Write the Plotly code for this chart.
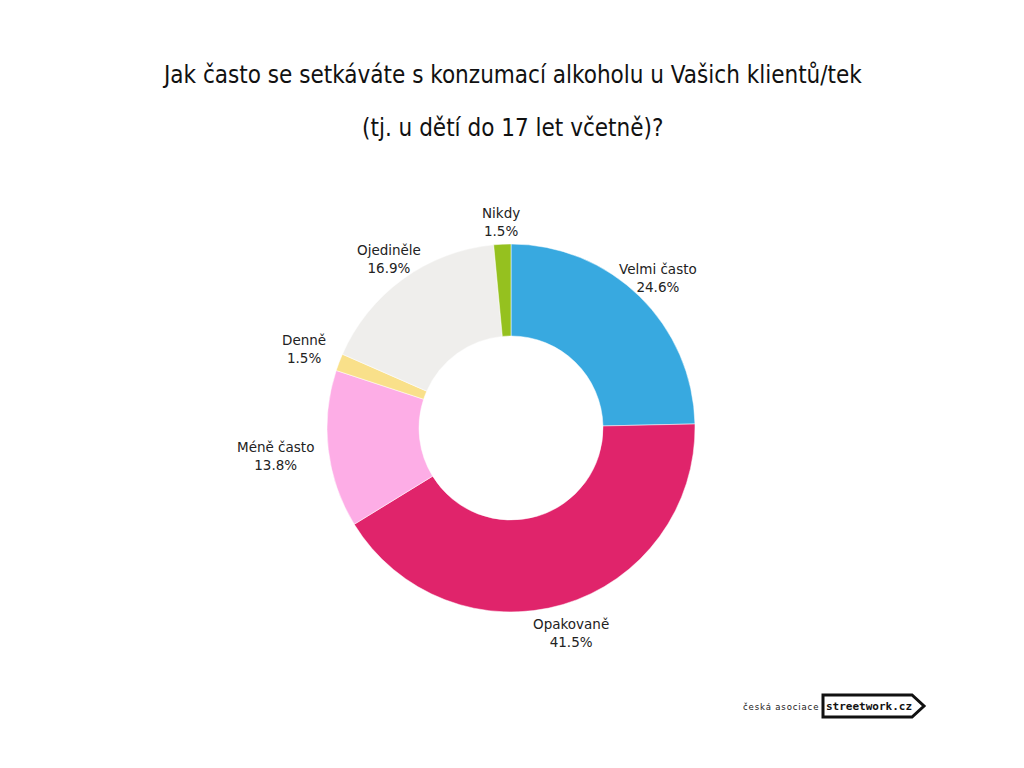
import math
import plotly.graph_objects as go

categories = ["Velmi často", "Opakovaně", "Méně často", "Denně", "Ojediněle", "Nikdy"]
values = [24.6, 41.5, 13.8, 1.5, 16.9, 1.5]
colors = ["#38A9E0", "#E0246B", "#FDADE6", "#F9E08A", "#EFEEEC", "#95C11F"]

title_lines = ["Jak často se setkáváte s konzumací alkoholu u Vašich klientů/tek",
               "(tj. u dětí do 17 let včetně)?"]

W, H = 1024, 768
CX, CY, R = 511, 428, 184          # pie centre / radius in px
LABEL_R = 214                      # label centre radius in px

fig = go.Figure(go.Pie(
    labels=categories,
    values=values,
    textposition="none",
    marker=dict(colors=colors, line=dict(color="white", width=0.5)),
    hole=0.5,
    sort=False,
    direction="clockwise",
    rotation=0,
    showlegend=False,
    domain=dict(x=[(CX - R) / W, (CX + R) / W], y=[1 - (CY + R) / H, 1 - (CY - R) / H]),
))

# slice labels placed along each slice's mid angle
total = sum(values)
annotations = []
cum = 0.0
for lab, v in zip(categories, values):
    mid = (cum + v / 2) / total * 2 * math.pi
    cum += v
    s, c = math.sin(mid), math.cos(mid)
    r = LABEL_R - 8 * max(c, 0) ** 2 + 26 * s ** 16   # wider labels pushed out at the sides
    x = CX + r * s
    y = CY - r * c
    annotations.append(dict(
        text=f"{lab}<br>{v:.1f}%", x=x / W, y=1 - y / H, xref="paper", yref="paper",
        showarrow=False, xanchor="center", yanchor="middle",
        font=dict(family="DejaVu Sans", size=13.5, color="#222222")))

title_font = dict(family="Liberation Sans Narrow, DejaVu Sans Condensed, Roboto Condensed, Arial Narrow, sans-serif",
                  size=24, color="#111111")
annotations += [
    dict(text=title_lines[0], x=0.5, y=1 - 75 / H, xref="paper", yref="paper",
         showarrow=False, font=title_font, xanchor="center", yanchor="middle"),
    dict(text=title_lines[1], x=0.5, y=1 - 128 / H, xref="paper", yref="paper",
         showarrow=False, font=title_font, xanchor="center", yanchor="middle"),
    dict(text="\u200a".join("česká") + "\u2002" + "\u200a".join("asociace"),
         x=820 / W, y=1 - 706 / H, xref="paper", yref="paper",
         showarrow=False, font=dict(family="DejaVu Sans Condensed, Liberation Sans Narrow, sans-serif", size=9.5, color="#222222"),
         xanchor="right", yanchor="middle"),
    dict(text="<b>streetwork.cz</b>", x=869 / W, y=1 - 706 / H, xref="paper", yref="paper",
         showarrow=False, font=dict(family="DejaVu Sans Mono", size=11, color="#111111"),
         xanchor="center", yanchor="middle"),
]

fig.update_layout(
    width=W, height=H,
    margin=dict(l=0, r=0, t=0, b=0),
    paper_bgcolor="white",
    plot_bgcolor="white",
    annotations=annotations,
    shapes=[
        dict(type="path", xref="paper", yref="paper",
             path=f"M {823/W} {1-695/H} L {912/W} {1-695/H} L {924/W} {1-706/H} "
                  f"L {912/W} {1-717/H} L {823/W} {1-717/H} Z",
             line=dict(color="#111111", width=3), fillcolor="rgba(0,0,0,0)"),
    ],
)

fig.write_html("out.html")
